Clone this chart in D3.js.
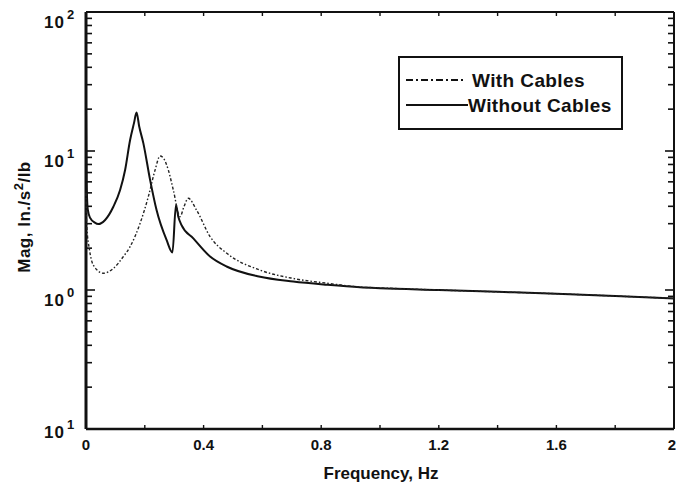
<!DOCTYPE html>
<html>
<head>
<meta charset="utf-8">
<script src="https://cdn.jsdelivr.net/npm/d3@7"></script>
<style>
  body { margin: 0; background: #fff; }
  text { font-family: "Liberation Sans", Arial, sans-serif; font-weight: bold; fill: #111; }
</style>
</head>
<body>
<svg id="chart"></svg>
<script>
const width = 676, height = 490;

// frequency (Hz) / magnitude pairs
const withoutFreq = [0, 0.002, 0.006, 0.014, 0.03, 0.042, 0.065, 0.093, 0.116, 0.133, 0.15, 0.163, 0.172, 0.181, 0.195, 0.218, 0.24, 0.274, 0.294, 0.306, 0.314, 0.325, 0.365, 0.422, 0.48, 0.588, 0.705, 0.819, 0.932, 1.0, 1.2, 1.4, 1.6, 1.8, 2.0];
const withoutMag  = [20, 6, 3.8, 3.3, 3.05, 2.98, 3.19, 3.97, 5.24, 7.3, 12, 15.8, 18.9, 15, 11.4, 6.2, 3.76, 2.29, 1.86, 4.09, 3.37, 2.93, 2.35, 1.74, 1.47, 1.25, 1.15, 1.09, 1.045, 1.03, 1.0, 0.97, 0.94, 0.905, 0.87];

const withFreq = [0, 0.003, 0.011, 0.025, 0.059, 0.093, 0.127, 0.15, 0.184, 0.212, 0.235, 0.252, 0.263, 0.28, 0.297, 0.32, 0.333, 0.348, 0.376, 0.422, 0.48, 0.592, 0.705, 0.819, 0.932, 1.0, 1.2, 1.4, 1.6, 1.8, 2.0];
const withMag  = [5, 2.8, 2.0, 1.51, 1.32, 1.43, 1.74, 2.05, 3.02, 4.69, 7.3, 9.2, 8.9, 7.3, 5.24, 3.37, 3.97, 4.57, 3.76, 2.42, 1.83, 1.39, 1.21, 1.12, 1.05, 1.035, 1.0, 0.97, 0.94, 0.905, 0.87];

const xTicks = [0, 0.2, 0.4, 0.6, 0.8, 1.0, 1.2, 1.4, 1.6, 1.8, 2.0];
const xLabels = ["0", "", "0.4", "", "0.8", "", "1.2", "", "1.6", "", "2"];
const yDecades = [0.1, 1, 10, 100];
const yExpLabels = ["1", "0", "1", "2"];   // exponents as printed (minus sign lost in the scan)
const legendNames = ["With Cables", "Without Cables"];

const svg = d3.select("#chart").attr("width", width).attr("height", height);

const x = d3.scaleLinear().domain([0, 2]).range([86, 674]);
const y = d3.scaleLog().domain([0.1, 100]).range([429, 12]);

// minor log ticks
const minor = [];
yDecades.slice(0, 3).forEach(d => { for (let k = 2; k <= 9; k++) minor.push(d * k); });

const ink = "#111";

// left + right ticks
[[x(0), 1], [x(2), -1]].forEach(([x0, dir]) => {
  svg.selectAll(null).data(minor).join("line")
    .attr("x1", x0).attr("x2", x0 + dir * 6)
    .attr("y1", d => y(d)).attr("y2", d => y(d))
    .attr("stroke", ink).attr("stroke-width", 1.6);
  svg.selectAll(null).data(yDecades).join("line")
    .attr("x1", x0).attr("x2", x0 + dir * 9)
    .attr("y1", d => y(d)).attr("y2", d => y(d))
    .attr("stroke", ink).attr("stroke-width", 1.6);
});

// bottom + top ticks
[[y(0.1), -1], [y(100), 1]].forEach(([y0, dir]) => {
  svg.selectAll(null).data(xTicks).join("line")
    .attr("x1", d => x(d)).attr("x2", d => x(d))
    .attr("y1", y0).attr("y2", y0 + dir * 4)
    .attr("stroke", ink).attr("stroke-width", 1.4);
});

// frame
svg.append("line").attr("x1", x(0)).attr("x2", x(0)).attr("y1", y(100)).attr("y2", y(0.1))
  .attr("stroke", ink).attr("stroke-width", 3);
svg.append("line").attr("x1", x(0)).attr("x2", x(2)).attr("y1", y(0.1)).attr("y2", y(0.1))
  .attr("stroke", ink).attr("stroke-width", 2.5);
svg.append("line").attr("x1", x(0)).attr("x2", x(2)).attr("y1", y(100)).attr("y2", y(100))
  .attr("stroke", ink).attr("stroke-width", 2);
svg.append("line").attr("x1", x(2)).attr("x2", x(2)).attr("y1", y(100)).attr("y2", y(0.1))
  .attr("stroke", ink).attr("stroke-width", 2);

// y tick labels: 10 with superscript exponent
const yl = svg.selectAll(null).data(yDecades).join("g");
yl.append("text")
  .attr("x", 65).attr("y", (d, i) => y(d) + (i === 0 ? 9 : 16))
  .attr("text-anchor", "end").attr("font-size", 17).attr("letter-spacing", 1).text("10");
yl.append("text")
  .attr("x", 67).attr("y", (d, i) => y(d) + (i === 0 ? 0 : 7))
  .attr("font-size", 13).text((d, i) => yExpLabels[i]);

// x tick labels
svg.selectAll(null).data(xTicks).join("text")
  .attr("x", (d, i) => i === xTicks.length - 1 ? 676 : x(d)).attr("y", 450)
  .attr("text-anchor", (d, i) => i === xTicks.length - 1 ? "end" : "middle")
  .attr("font-size", 15)
  .text((d, i) => xLabels[i]);

// axis titles
svg.append("text").attr("x", 381).attr("y", 479)
  .attr("text-anchor", "middle").attr("font-size", 17).text("Frequency, Hz");

const yt = svg.append("text")
  .attr("transform", "translate(30,217) rotate(-90)")
  .attr("text-anchor", "middle").attr("font-size", 17).attr("letter-spacing", 0.5);
yt.append("tspan").text("Mag, In./s");
yt.append("tspan").attr("dy", -7).attr("font-size", 13).text("2");
yt.append("tspan").attr("dy", 7).text("/lb");

// curves
const line = d3.line().curve(d3.curveMonotoneX).x(d => x(d[0])).y(d => y(d[1]));
const withoutData = withoutFreq.map((f, i) => [f, withoutMag[i]]);
const withData = withFreq.map((f, i) => [f, withMag[i]]);

svg.append("path").datum(withoutData).attr("d", line)
  .attr("fill", "none").attr("stroke", ink).attr("stroke-width", 2)
  .attr("stroke-linejoin", "round");
svg.append("path").datum(withData).attr("d", line)
  .attr("fill", "none").attr("stroke", "#222").attr("stroke-width", 1.4)
  .attr("stroke-dasharray", "3,2,1.5,2");

// legend
svg.append("rect").attr("x", 399).attr("y", 57).attr("width", 223).attr("height", 72)
  .attr("fill", "#fff").attr("stroke", ink).attr("stroke-width", 2);
const dashes = ["7,3,2,3", null];
const lg = svg.selectAll(null).data(legendNames).join("g")
  .attr("transform", (d, i) => `translate(0,${80 + i * 25})`);
lg.append("line")
  .attr("x1", 406).attr("x2", (d, i) => i === 0 ? 463 : 468)
  .attr("y1", 0).attr("y2", 0)
  .attr("stroke", ink).attr("stroke-width", 1.8)
  .attr("stroke-dasharray", (d, i) => dashes[i]);
lg.append("text")
  .attr("x", (d, i) => i === 0 ? 472 : 468).attr("y", 7)
  .attr("font-size", 19).attr("letter-spacing", 0.4).text(d => d);
</script>
</body>
</html>
